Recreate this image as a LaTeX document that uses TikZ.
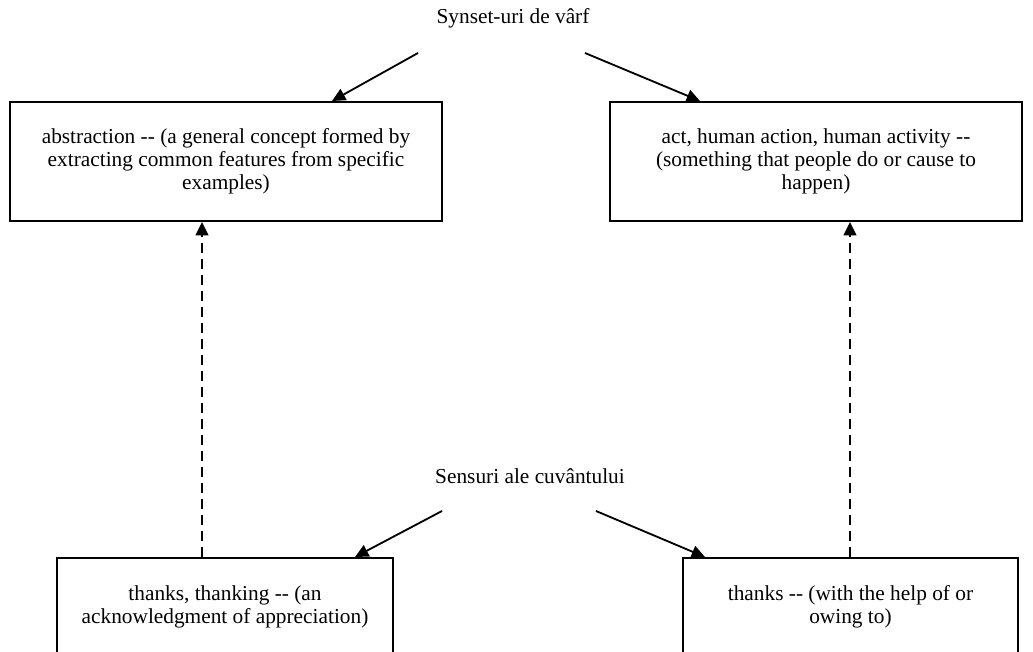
\documentclass[tikz,border=0pt]{standalone}
\usepackage{fontspec}
\setmainfont{Liberation Serif}
\usetikzlibrary{arrows.meta}
% two separate hyphens, kept apart from the en-dash ligature
\newcommand\twohyph{-\kern0pt-}
\begin{document}
\begin{tikzpicture}[x=0.6pt, y=-0.6pt,
  every node/.style={font=\fontsize{12.8}{13.8}\selectfont},
  box/.style={draw, line width=1.2pt, align=center, inner sep=0pt},
  pointer/.style={line width=1.1pt, -{Triangle[length=8pt, width=7.5pt]}},
  hyper/.style={line width=1.5pt, dash pattern=on 6pt off 3.6pt, -{Triangle[length=8pt, width=7.5pt]}}]
  \path[fill=white, use as bounding box] (0,0) rectangle (1033,652);
  \clip (0,0) rectangle (1033,652);

  % group labels
  \node (top) at (513,18) {Synset-uri de vârf};
  \node (sens) at (530,476) {Sensuri ale cuvântului};

  % synset boxes
  \node[box, minimum width=259.2pt, minimum height=71.4pt] (abs) at (226,161.5)
    {abstraction \twohyph{} (a general concept formed by\\extracting common features from specific\\examples)};
  \node[box, minimum width=247.2pt, minimum height=71.4pt] (act) at (816,161.5)
    {act, human action, human activity \twohyph{}\\(something that people do or cause to\\happen)};
  \node[box, minimum width=201.6pt, minimum height=58.8pt] (thx) at (225,607)
    {thanks, thanking \twohyph{} (an\\acknowledgment of appreciation)};
  \node[box, minimum width=201pt, minimum height=58.8pt] (thy) at (850.5,607)
    {thanks \twohyph{} (with the help of or\\owing to)};

  % start and aim points of the connectors
  \coordinate (s1) at (418,53);
  \coordinate (s2) at (585,53);
  \coordinate (s3) at (442,511);
  \coordinate (s4) at (596,511);
  \coordinate (a1) at (332,0);
  \coordinate (a2) at (700,0);
  \coordinate (a3) at (355,0);
  \coordinate (a4) at (705,0);
  \coordinate (d1) at (202,0);
  \coordinate (d2) at (850,0);

  \draw[pointer] (s1) -- (abs.north -| a1);
  \draw[pointer] (s2) -- (act.north -| a2);
  \draw[pointer] (s3) -- (thx.north -| a3);
  \draw[pointer] (s4) -- (thy.north -| a4);

  \draw[hyper] (thx.north -| d1) -- (abs.south -| d1);
  \draw[hyper] (thy.north -| d2) -- (act.south -| d2);
\end{tikzpicture}
\end{document}
